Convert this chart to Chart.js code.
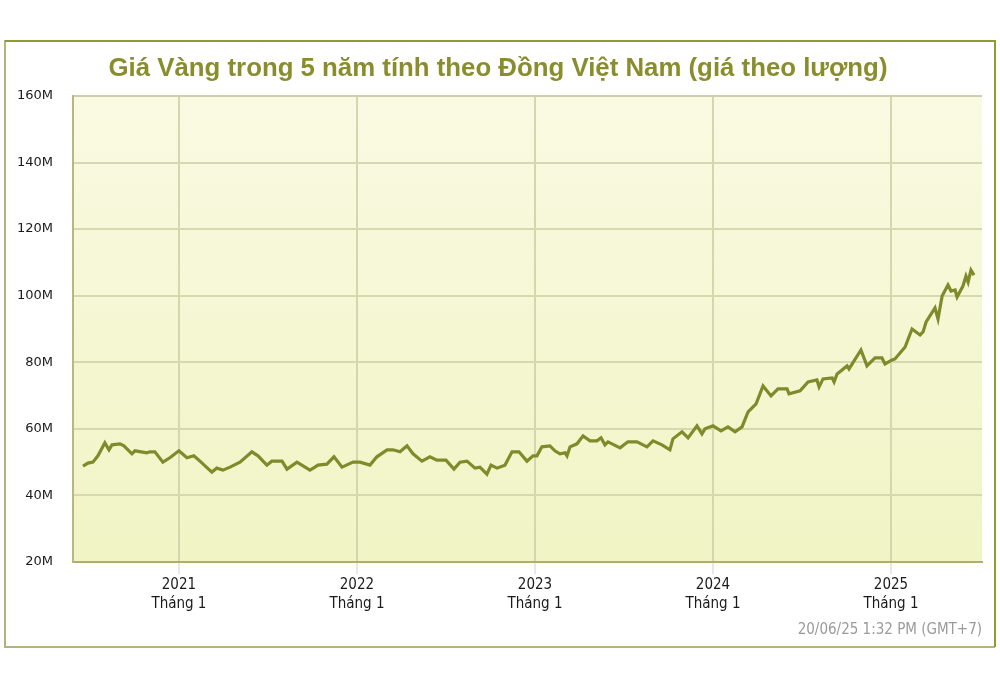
<!DOCTYPE html>
<html>
<head>
<meta charset="utf-8">
<script src="https://cdn.jsdelivr.net/npm/chart.js@4/dist/chart.umd.min.js"></script>
<style>
  html, body { margin: 0; padding: 0; background: #ffffff; }
  #wrap { position: relative; width: 1000px; height: 700px; }
</style>
</head>
<body>
<div id="wrap"><canvas id="goldChart" width="1000" height="700"></canvas></div>
<script>
// Gia vang (trieu dong / luong), doc tu hinh
const years = [
  2020.461, 2020.489, 2020.517, 2020.545, 2020.584, 2020.607, 2020.624, 2020.669, 2020.691, 2020.736,
  2020.753, 2020.820, 2020.837, 2020.865, 2020.910, 2020.949, 2021.000, 2021.045, 2021.084, 2021.118,
  2021.185, 2021.213, 2021.247, 2021.287, 2021.343, 2021.410, 2021.444, 2021.494, 2021.522, 2021.579,
  2021.607, 2021.663, 2021.736, 2021.764, 2021.781, 2021.831, 2021.871, 2021.916, 2021.978, 2022.017,
  2022.073, 2022.112, 2022.169, 2022.202, 2022.242, 2022.281, 2022.315, 2022.365, 2022.410, 2022.449,
  2022.500, 2022.545, 2022.579, 2022.618, 2022.663, 2022.691, 2022.730, 2022.753, 2022.787, 2022.831,
  2022.871, 2022.910, 2022.955, 2022.989, 2023.011, 2023.039, 2023.084, 2023.112, 2023.140, 2023.169,
  2023.180, 2023.197, 2023.236, 2023.270, 2023.309, 2023.348, 2023.371, 2023.393, 2023.410, 2023.478,
  2023.522, 2023.573, 2023.629, 2023.663, 2023.713, 2023.758, 2023.775, 2023.826, 2023.860, 2023.910,
  2023.938, 2023.955, 2024.000, 2024.045, 2024.084, 2024.124, 2024.163, 2024.197, 2024.242, 2024.281,
  2024.326, 2024.365, 2024.416, 2024.427, 2024.489, 2024.534, 2024.584, 2024.596, 2024.618, 2024.669,
  2024.680, 2024.697, 2024.753, 2024.764, 2024.831, 2024.865, 2024.910, 2024.949, 2024.966, 2025.006,
  2025.022, 2025.079, 2025.118, 2025.163, 2025.180, 2025.197, 2025.247, 2025.264, 2025.287, 2025.320,
  2025.337, 2025.360, 2025.371, 2025.404, 2025.421, 2025.433, 2025.449, 2025.466
];
const prices = [
  48.8, 49.7, 50.0, 51.9, 55.8, 53.7, 55.2, 55.5, 54.9, 52.5,
  53.4, 52.8, 53.1, 53.1, 50.0, 51.3, 53.4, 51.3, 51.9, 50.3,
  47.0, 48.2, 47.6, 48.5, 50.0, 53.1, 51.9, 49.1, 50.3, 50.3,
  47.9, 50.0, 47.6, 48.5, 49.1, 49.4, 51.6, 48.5, 50.0, 50.0,
  49.1, 51.6, 53.7, 53.7, 53.1, 54.9, 52.5, 50.3, 51.6, 50.6,
  50.6, 47.9, 50.0, 50.3, 48.2, 48.5, 46.4, 49.1, 48.2, 49.1,
  53.1, 53.1, 50.3, 51.9, 51.9, 54.6, 54.9, 53.4, 52.5, 52.8,
  51.9, 54.6, 55.5, 57.9, 56.4, 56.4, 57.3, 55.2, 56.1, 54.3,
  56.1, 56.1, 54.6, 56.4, 55.2, 53.7, 57.0, 59.1, 57.3, 60.9,
  58.5, 60.0, 60.9, 59.4, 60.6, 59.1, 60.6, 65.1, 67.5, 72.9,
  69.9, 72.0, 72.0, 70.5, 71.4, 74.1, 74.7, 72.6, 75.0, 75.3,
  74.1, 76.5, 78.9, 78.0, 83.7, 78.9, 81.3, 81.3, 79.5, 80.7,
  81.0, 84.6, 90.0, 88.2, 89.1, 92.1, 96.3, 93.0, 99.9, 103.2,
  101.4, 101.7, 99.6, 102.9, 105.9, 104.1, 107.7, 106.2
];
const tickYears = [2021, 2022, 2023, 2024, 2025];
const tickMonth = 'Tháng 1';
const yTicks = [20, 40, 60, 80, 100, 120, 140, 160];

const titleText = 'Giá Vàng trong 5 năm tính theo Đồng Việt Nam (giá theo lượng)';
const stampText = '20/06/25 1:32 PM (GMT+7)';

const narrowFont = '"Liberation Sans Narrow", "DejaVu Sans Condensed", sans-serif';

// khung ngoai + nen vung ve
const framePlugin = {
  id: 'frame',
  beforeDraw(chart) {
    const ctx = chart.ctx;
    const a = chart.chartArea;
    ctx.save();
    // vien ngoai
    ctx.lineWidth = 2;
    ctx.strokeStyle = '#b3b578';
    ctx.beginPath();
    ctx.moveTo(5, 40); ctx.lineTo(5, 647); ctx.lineTo(995, 647);
    ctx.stroke();
    ctx.strokeStyle = '#8f9b35';
    ctx.beginPath();
    ctx.moveTo(5, 41); ctx.lineTo(995, 41); ctx.lineTo(995, 647);
    ctx.stroke();
    // nen gradient
    const g = ctx.createLinearGradient(0, a.top, 0, a.bottom);
    g.addColorStop(0, '#f9fae2');
    g.addColorStop(1, '#f1f4c4');
    ctx.fillStyle = g;
    ctx.fillRect(a.left, a.top, a.right - a.left, a.bottom - a.top);
    ctx.restore();
  }
};

const ctx = document.getElementById('goldChart').getContext('2d');
new Chart(ctx, {
  type: 'line',
  data: {
    datasets: [{
      label: 'Giá vàng',
      data: years.map((y, i) => ({ x: y, y: prices[i] })),
      borderColor: '#7f8b2b',
      borderWidth: 3.2,
      pointRadius: 0,
      tension: 0,
      fill: false
    }]
  },
  options: {
    responsive: false,
    animation: false,
    layout: { padding: { left: 14, right: 18, top: 40, bottom: 61 } },
    plugins: {
      legend: { display: false },
      tooltip: { enabled: false },
      title: {
        display: true,
        text: titleText,
        color: '#8a8d2c',
        font: { family: '"Liberation Sans", Arial, sans-serif', size: 25.8, weight: 'bold', lineHeight: 1.2 },
        padding: { top: 13.5, bottom: 11.5 }
      },
      subtitle: {
        display: true,
        position: 'bottom',
        align: 'end',
        text: stampText,
        color: '#9a9a9a',
        font: { family: narrowFont, size: 15, lineHeight: 1.2 },
        padding: { top: 9, bottom: 0 }
      }
    },
    scales: {
      x: {
        type: 'linear',
        min: 2020.405,
        max: 2025.511,
        afterBuildTicks: (scale) => { scale.ticks = tickYears.map(v => ({ value: v })); },
        afterFit: (scale) => { scale.height = 50; },
        ticks: {
          autoSkip: false,
          maxRotation: 0,
          padding: 1,
          color: '#1a1a1a',
          font: { family: narrowFont, size: 15, lineHeight: 1.3 },
          callback: (v) => [String(v), tickMonth]
        },
        grid: {
          color: '#d6d6ae',
          lineWidth: 2,
          tickLength: 12,
          tickColor: '#c9d2e2',
          tickWidth: 1
        },
        border: { color: '#aeae70', width: 2 }
      },
      y: {
        min: 20,
        max: 160,
        afterBuildTicks: (scale) => { scale.ticks = yTicks.map(v => ({ value: v })); },
        afterFit: (scale) => { scale.width = 59; },
        ticks: {
          padding: 20,
          color: '#1a1a1a',
          font: { family: '"DejaVu Sans", Verdana, sans-serif', size: 13 },
          callback: (v) => v + 'M'
        },
        grid: {
          drawTicks: false,
          lineWidth: 2,
          color: (c) => (c.tick && c.tick.value === 160) ? '#cfccb0' : '#d8d8b0'
        },
        border: { color: '#b8b87e', width: 2 }
      }
    }
  },
  plugins: [framePlugin]
});
</script>
</body>
</html>
